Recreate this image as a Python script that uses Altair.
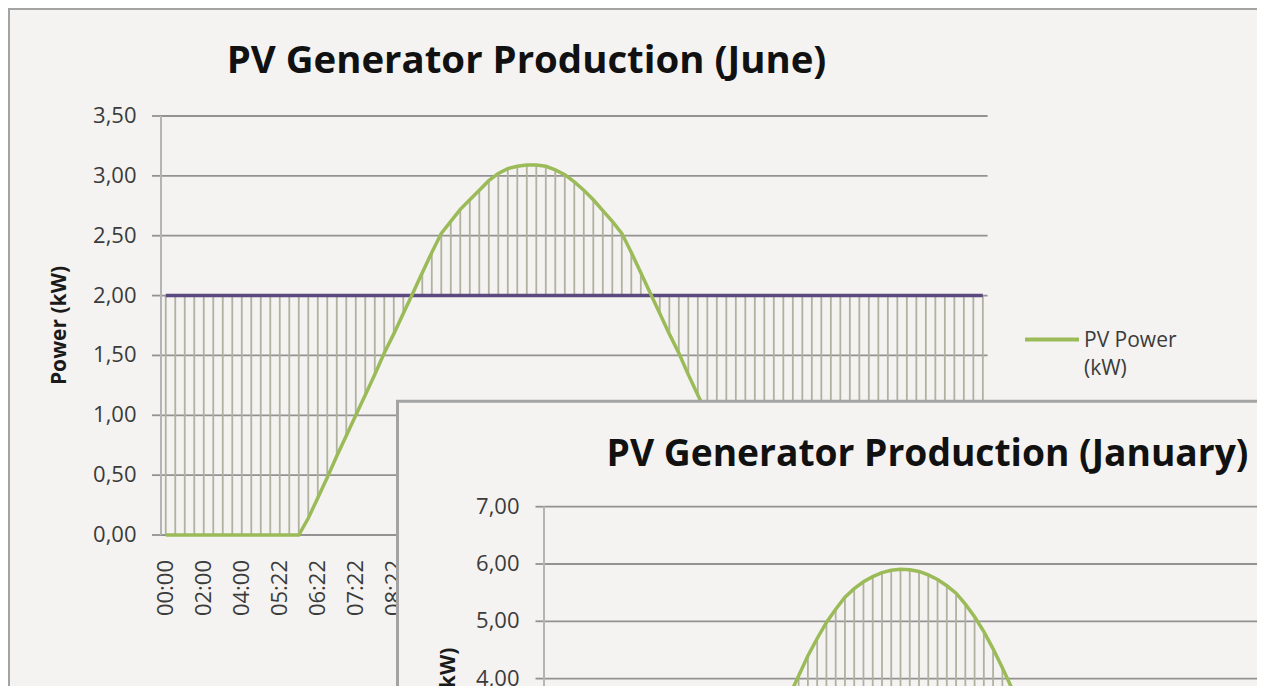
import altair as alt
import pandas as pd

# ---------------- data ----------------
time_labels = [
    "00:00", "00:30", "01:00", "01:30", "02:00", "02:30", "03:00", "03:30",
    "04:00", "04:30", "05:00", "05:07", "05:22", "05:37", "05:52", "06:07",
    "06:22", "06:37", "06:52", "07:07", "07:22", "07:37", "07:52", "08:07",
    "08:22", "08:37", "08:52", "09:07", "09:22", "09:37", "09:52", "10:07",
    "10:22", "10:37", "10:52", "11:07", "11:22", "11:37", "11:52", "12:07",
    "12:22", "12:37", "12:52", "13:07", "13:22", "13:37", "13:52", "14:07",
    "14:22", "14:37", "14:52", "15:07", "15:22", "15:37", "15:52", "16:07",
    "16:22", "16:37", "16:52", "17:07", "17:22", "17:37", "17:52", "18:07",
    "18:22", "18:37", "18:52", "19:07", "19:22", "19:37", "19:52", "20:07",
    "20:22", "20:37", "20:52", "21:07", "21:22", "21:37", "21:52", "22:07",
    "22:22", "22:37", "22:52", "23:07", "23:22", "23:37", "23:52",
]

june_pv = [
    0.00, 0.00, 0.00, 0.00, 0.00, 0.00, 0.00, 0.00, 0.00, 0.00,
    0.00, 0.00, 0.00, 0.00, 0.00, 0.14, 0.31, 0.48, 0.66, 0.83,
    1.00, 1.17, 1.34, 1.52, 1.68, 1.85, 2.02, 2.19, 2.36, 2.52,
    2.62, 2.72, 2.80, 2.88, 2.96, 3.02, 3.06, 3.08, 3.09, 3.09,
    3.08, 3.05, 3.01, 2.95, 2.88, 2.80, 2.71, 2.62, 2.52, 2.36,
    2.19, 2.02, 1.85, 1.68, 1.52, 1.34, 1.17, 1.00, 0.83, 0.66,
    0.48, 0.31, 0.14, 0.00, 0.00, 0.00, 0.00, 0.00, 0.00, 0.00,
    0.00, 0.00, 0.00, 0.00, 0.00, 0.00, 0.00, 0.00, 0.00, 0.00,
    0.00, 0.00, 0.00, 0.00, 0.00, 0.00, 0.00,
]
june_consumption = [
    2.00, 2.00, 2.00, 2.00, 2.00, 2.00, 2.00, 2.00, 2.00, 2.00,
    2.00, 2.00, 2.00, 2.00, 2.00, 2.00, 2.00, 2.00, 2.00, 2.00,
    2.00, 2.00, 2.00, 2.00, 2.00, 2.00, 2.00, 2.00, 2.00, 2.00,
    2.00, 2.00, 2.00, 2.00, 2.00, 2.00, 2.00, 2.00, 2.00, 2.00,
    2.00, 2.00, 2.00, 2.00, 2.00, 2.00, 2.00, 2.00, 2.00, 2.00,
    2.00, 2.00, 2.00, 2.00, 2.00, 2.00, 2.00, 2.00, 2.00, 2.00,
    2.00, 2.00, 2.00, 2.00, 2.00, 2.00, 2.00, 2.00, 2.00, 2.00,
    2.00, 2.00, 2.00, 2.00, 2.00, 2.00, 2.00, 2.00, 2.00, 2.00,
    2.00, 2.00, 2.00, 2.00, 2.00, 2.00, 2.00,
]

january_pv = [
    0.00, 0.00, 0.00, 0.00, 0.00, 0.00, 0.00, 0.00, 0.00, 0.00,
    0.00, 0.00, 0.00, 0.00, 0.00, 0.00, 0.00, 0.28, 0.67, 1.06,
    1.45, 1.84, 2.22, 2.60, 2.98, 3.35, 3.70, 4.05, 4.40, 4.70,
    4.98, 5.21, 5.42, 5.57, 5.69, 5.78, 5.85, 5.89, 5.91, 5.90,
    5.87, 5.81, 5.73, 5.62, 5.49, 5.30, 5.08, 4.82, 4.52, 4.19,
    3.84, 3.49, 3.12, 2.75, 2.38, 2.00, 1.61, 1.22, 0.83, 0.44,
    0.05, 0.00, 0.00, 0.00, 0.00, 0.00, 0.00, 0.00, 0.00, 0.00,
    0.00, 0.00, 0.00, 0.00, 0.00, 0.00, 0.00, 0.00, 0.00, 0.00,
    0.00, 0.00, 0.00, 0.00, 0.00, 0.00, 0.00,
]
january_consumption = june_consumption

june_ticks = [0.0, 0.5, 1.0, 1.5, 2.0, 2.5, 3.0, 3.5]
january_ticks = [0, 1, 2, 3, 4, 5, 6, 7]
LABEL_STEP = 4

june_title = "PV Generator Production (June)"
january_title = "PV Generator Production (January)"
y_title = "Power (kW)"
legend_label = "PV Power\n(kW)"

# ---------------- style ----------------
BG = "#f4f3f1"
GREEN = "#9bbb59"
PURPLE = "#5b4a7f"
HL = "#b1b1a0"
GRID = "#929292"
AXIS = "#b4b4b4"
BORDER = "#a3a3a3"
TEXT = "#3b3b3b"
FONT = "Open Sans"

W, H = 1249, 678
idx = list(range(len(time_labels)))

june_df = pd.DataFrame({"idx": idx, "time": time_labels, "pv": june_pv, "cons": june_consumption})
jan_df = pd.DataFrame({"idx": idx, "time": time_labels, "pv": january_pv, "cons": january_consumption})
comma_expr = "replace(format(datum.v, '.2f'), '.', ',')"


def panel(df, ticks, xs, ys, x_axis_px, y_label_px, tick_len, label_y_px, title_x_px,
          show_time_labels=True):
    """One Excel-style line chart: grid, high-low lines, two series, axis texts."""
    tdf = pd.DataFrame({"v": ticks})
    y0, y1 = ticks[0], ticks[-1]
    grid = alt.Chart(tdf).mark_rule(color=GRID, strokeWidth=1.8).encode(
        y=alt.Y("v:Q", scale=ys, axis=None),
        x=alt.X(datum=-0.5, scale=xs, axis=None),
        x2=alt.X2(datum=86.5),
    )
    ticks_m = alt.Chart(tdf).mark_rule(color=GRID, strokeWidth=1.8).encode(
        y=alt.Y("v:Q", scale=ys, axis=None),
        x=alt.value(x_axis_px - tick_len), x2=alt.value(x_axis_px),
    )
    y_line = alt.Chart(tdf).mark_rule(color=AXIS, strokeWidth=2).encode(
        x=alt.value(x_axis_px),
        y=alt.Y(datum=y0, scale=ys, axis=None),
        y2=alt.Y2(datum=y1),
    )
    y_labels = alt.Chart(tdf).transform_calculate(lab=comma_expr).mark_text(
        font=FONT, fontSize=22, color=TEXT, align="right", baseline="middle"
    ).encode(
        y=alt.Y("v:Q", scale=ys, axis=None),
        x=alt.value(y_label_px),
        text="lab:N",
    )
    y_tt = alt.Chart(pd.DataFrame({"t": [y_title], "v": [(y0 + y1) / 2]})).mark_text(
        font=FONT, fontSize=21, fontWeight="bold", color="#1a1a1a",
        align="center", baseline="alphabetic", angle=270,
    ).encode(
        y=alt.Y("v:Q", scale=ys, axis=None),
        x=alt.value(title_x_px),
        text="t:N",
    )
    hl = alt.Chart(df).mark_rule(color=HL, strokeWidth=1.8).encode(
        x=alt.X("idx:Q", scale=xs, axis=None),
        y=alt.Y("pv:Q", scale=ys, axis=None),
        y2="cons:Q",
    )
    cons_line = alt.Chart(df).mark_line(color=PURPLE, strokeWidth=3.5).encode(
        x=alt.X("idx:Q", scale=xs, axis=None),
        y=alt.Y("cons:Q", scale=ys, axis=None),
    )
    pv_line = alt.Chart(df).mark_line(color=GREEN, strokeWidth=3.5).encode(
        x=alt.X("idx:Q", scale=xs, axis=None),
        y=alt.Y("pv:Q", scale=ys, axis=None),
    )
    layers = [grid, ticks_m, y_line, hl, cons_line, pv_line, y_labels, y_tt]
    if show_time_labels:
        x_labels = alt.Chart(df).transform_filter(
            f"datum.idx % {LABEL_STEP} == 0"
        ).mark_text(
            font=FONT, fontSize=22, color=TEXT, align="right", baseline="middle", angle=270
        ).encode(
            x=alt.X("idx:Q", scale=xs, axis=None),
            y=alt.value(label_y_px),
            text="time:N",
        )
        layers.append(x_labels)
    return alt.layer(*layers)


# ---------------- June chart ----------------
jx = alt.Scale(domain=[-0.5, 86.5], range=[153, 979.6], nice=False, zero=False)
jy = alt.Scale(domain=[0, 3.5], range=[527, 108], nice=False, zero=False)
june = panel(june_df, june_ticks, jx, jy, x_axis_px=153, y_label_px=128.5,
             tick_len=9, label_y_px=552, title_x_px=57.5)

june_border = alt.Chart(pd.DataFrame({"a": [0]})).mark_rect(
    fillOpacity=0, stroke=BORDER, strokeWidth=3
).encode(x=alt.value(0.5), y=alt.value(0.5), x2=alt.value(1400), y2=alt.value(1000))

june_title_mark = alt.Chart(pd.DataFrame({"t": [june_title]})).mark_text(
    font=FONT, fontSize=38.4, fontWeight="bold", color="#111111", align="center", baseline="alphabetic"
).encode(x=alt.value(518.5), y=alt.value(64.5), text="t:N")

legend_line = alt.Chart(pd.DataFrame({"a": [0]})).mark_rule(color=GREEN, strokeWidth=4).encode(
    x=alt.value(1017), x2=alt.value(1071), y=alt.value(331.5)
)
legend_text = alt.Chart(pd.DataFrame({"t": [legend_label]})).mark_text(
    font=FONT, fontSize=21, color=TEXT, align="left", baseline="alphabetic",
    lineBreak="\n", lineHeight=28,
).encode(x=alt.value(1076), y=alt.value(339), text="t:N")

# ---------------- January chart (its time axis lies below the visible area) ----------------
ax = alt.Scale(domain=[-0.5, 86.5], range=[536, 1341.6], nice=False, zero=False)
ay = alt.Scale(domain=[0, 7], range=[899.8, 498.7], nice=False, zero=False)
january = panel(jan_df, january_ticks, ax, ay, x_axis_px=536, y_label_px=511.5,
                tick_len=8.5, label_y_px=924, title_x_px=447, show_time_labels=False)

jan_panel = alt.Chart(pd.DataFrame({"a": [0]})).mark_rect(
    fill=BG, stroke=BORDER, strokeWidth=3
).encode(x=alt.value(389.5), y=alt.value(393.3), x2=alt.value(1400), y2=alt.value(1000))

jan_title_mark = alt.Chart(pd.DataFrame({"t": [january_title]})).mark_text(
    font=FONT, fontSize=37.2, fontWeight="bold", color="#111111", align="center", baseline="alphabetic"
).encode(x=alt.value(919.5), y=alt.value(457.5), text="t:N")

chart = alt.layer(
    june_border, june, june_title_mark, legend_line, legend_text,
    jan_panel, january, jan_title_mark,
).resolve_scale(
    x="independent", y="independent"
).properties(
    width=W, height=H, padding=0,
    autosize=alt.AutoSizeParams(type="none"),
    background=BG,
).configure_view(strokeWidth=0)

chart.save("out.html", embed_options={"renderer": "svg", "actions": False})
